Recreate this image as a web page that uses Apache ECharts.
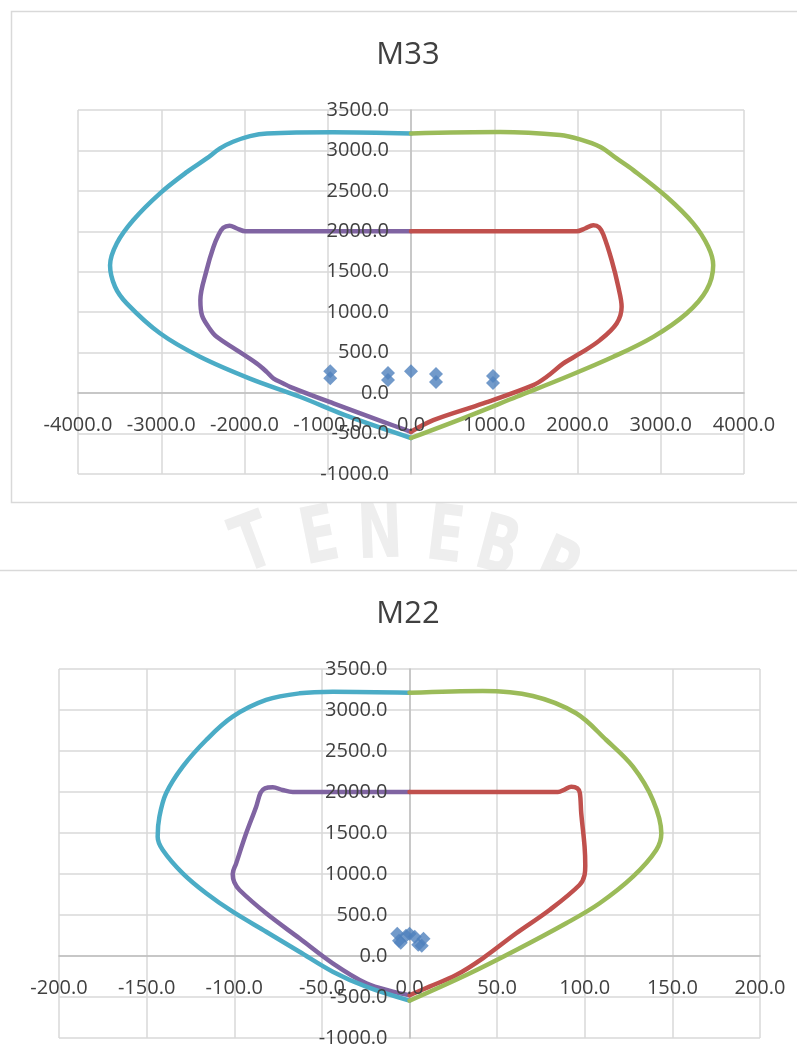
<!DOCTYPE html>
<html>
<head>
<meta charset="utf-8">
<script src="https://cdn.jsdelivr.net/npm/echarts@6/dist/echarts.min.js"></script>
<style>
  html, body { margin: 0; padding: 0; background: #ffffff; }
  #chart { width: 797px; height: 1061px; }
</style>
</head>
<body>
<div id="chart"></div>
<script>
// Axial load P of each load combination (shared by both diagrams)
const demandP = [270, 185, 248, 161, 270, 235, 136, 210, 124];
// Moment demands about each axis
const demandM33 = [-970, -970, -276, -276, 0, 300, 300, 985, 985];
const demandM22 = [-7, -6, -2, -5, 0, 3, 5, 8, 7];

// Axis tick setup
const m33Ticks = { min: -4000, max: 4000, step: 1000 };
const m22Ticks = { min: -200, max: 200, step: 50 };
const pTicks = { min: -1000, max: 3500, step: 500 };

// M33 interaction diagram: nominal (outer) and design (inner) curves, [M, P]
const m33NominalNeg = [[0,3210],[-940,3225],[-1730,3210],[-1934,3177],[-2138,3107],[-2294,3025],[-2454,2901],[-2690,2735],[-3015,2470],[-3335,2140],[-3535,1850],[-3615,1580],[-3555,1315],[-3415,1110],[-3015,740],[-2535,450],[-1935,180],[-1335,-45],[-735,-295],[0,-555]];
const m33NominalPos = [[0,3210],[1070,3228],[1790,3190],[2030,3136],[2270,3045],[2470,2901],[2670,2757],[3070,2427],[3390,2098],[3570,1809],[3630,1582],[3550,1273],[3310,985],[2910,696],[2430,449],[1870,202],[1270,-45],[670,-293],[0,-555]];
const m33DesignNeg = [[0,2000],[-1990,2000],[-2090,2035],[-2180,2070],[-2255,2045],[-2310,1960],[-2375,1800],[-2455,1520],[-2530,1150],[-2510,960],[-2420,800],[-2334,696],[-2094,532],[-1854,367],[-1734,263],[-1654,182],[-1534,120],[-1453,78],[-933,-127],[-333,-355],[0,-478]];
const m33DesignPos = [[0,2000],[1990,2000],[2090,2035],[2190,2075],[2260,2050],[2310,1960],[2410,1644],[2490,1314],[2530,1067],[2470,861],[2270,655],[2030,490],[1830,367],[1630,202],[1469,99],[868,-127],[268,-334],[0,-478]];

// M22 interaction diagram
const m22NominalNeg = [[0,3210],[-43.8,3223],[-62.8,3203],[-81.8,3122],[-100.9,2918],[-116,2634],[-129.4,2309],[-138.9,1984],[-142.7,1699],[-143.7,1455],[-140.8,1293],[-129.4,1008],[-116,765],[-100.9,540],[-81.8,296],[-62.8,52],[-43.8,-191],[-24.7,-374],[0,-545]];
const m22NominalPos = [[0,3210],[41.8,3232],[70.4,3171],[95.1,2960],[112.3,2634],[127.5,2309],[138.9,1902],[143.7,1496],[140.8,1293],[127.5,967],[108.5,643],[89.4,399],[60.9,73],[32.4,-232],[0,-545]];
const m22DesignNeg = [[0,2000],[-66.6,2000],[-72.5,2025],[-78,2057],[-82.5,2045],[-85,1990],[-87.5,1821],[-93.2,1496],[-98.9,1130],[-100.9,1000],[-100,900],[-97,805],[-81.8,521],[-62.8,216],[-43.8,-89],[-24.7,-333],[-9.5,-435],[0,-478]];
const m22DesignPos = [[0,2000],[84.7,2000],[88.5,2030],[92.3,2065],[95.8,2045],[97.2,1990],[98,1740],[99.9,1333],[100.3,1100],[99.9,988],[97,866],[79.9,561],[60.9,277],[41.8,-28],[26.6,-232],[11.4,-374],[0,-478]];

const COLORS = {
  demand: '#4F81BD',
  nominalNeg: '#4BACC6',
  nominalPos: '#9BBB59',
  designNeg: '#8064A2',
  designPos: '#C0504D'
};
const TEXT = '#404040';
const FONT = 'Open Sans';

const fmt = v => Number(v).toFixed(1);

// Grid lines and zero lines sit under the curves; tick labels use a second
// axis pair drawn above the curves, shifted onto the zero lines.
function gridAxis(gridIndex, t) {
  return {
    type: 'value', gridIndex, min: t.min, max: t.max, interval: t.step, z: 0,
    axisLine: { show: true, onZero: true, lineStyle: { color: '#BFBFBF', width: 1.5 } },
    axisTick: { show: false },
    axisLabel: { show: false },
    splitLine: { show: true, lineStyle: { color: '#D9D9D9', width: 1.5 } }
  };
}
function labelAxis(gridIndex, t, position) {
  return {
    type: 'value', gridIndex, min: t.min, max: t.max, interval: t.step, z: 10, position, offset: 0,
    axisLine: { show: false, onZero: false },
    axisTick: { show: false },
    splitLine: { show: false },
    axisLabel: { show: true, formatter: fmt, color: TEXT, fontSize: 20, fontFamily: FONT, margin: 22 }
  };
}

function curve(data, color, xi, yi) {
  return {
    type: 'line', data, xAxisIndex: xi, yAxisIndex: yi,
    showSymbol: false, smooth: 0.35, z: 3,
    lineStyle: { color, width: 4.5, cap: 'round', join: 'round' },
    itemStyle: { color }
  };
}
function demand(mValues, xi, yi) {
  return {
    type: 'scatter', xAxisIndex: xi, yAxisIndex: yi, z: 4,
    data: mValues.map((m, i) => [m, demandP[i]]),
    symbol: 'diamond', symbolSize: 14,
    itemStyle: { color: COLORS.demand }
  };
}

// Faint seal lettering between the two panels
const sealLetters = [
  { ch: 'T', x: 254, y: 548, r: 0.36 },
  { ch: 'E', x: 320, y: 541, r: 0.2 },
  { ch: 'N', x: 380, y: 537, r: 0.04 },
  { ch: 'E', x: 445, y: 540, r: -0.12 },
  { ch: 'B', x: 497, y: 551, r: -0.26 },
  { ch: 'R', x: 556, y: 573, r: -0.42 }
];

const chart = echarts.init(document.getElementById('chart'), null, { renderer: 'canvas' });

const option = {
  animation: false,
  backgroundColor: '#ffffff',
  grid: [
    { left: 78, top: 110, width: 666, height: 364, outerBoundsMode: 'none' },
    { left: 59, top: 669, width: 701, height: 369, outerBoundsMode: 'none' }
  ],
  xAxis: [
    gridAxis(0, m33Ticks),
    labelAxis(0, m33Ticks, 'bottom'),
    gridAxis(1, m22Ticks),
    labelAxis(1, m22Ticks, 'bottom')
  ],
  yAxis: [
    gridAxis(0, pTicks),
    labelAxis(0, pTicks, 'left'),
    gridAxis(1, pTicks),
    labelAxis(1, pTicks, 'left')
  ],
  graphic: [
    ...sealLetters.map(l => ({
      type: 'text', x: l.x, y: l.y, rotation: l.r, scaleY: 1.3, z: -20,
      style: { text: l.ch, fill: '#EEEEEE', font: 'bold 60px "DejaVu Sans Condensed", "DejaVu Sans"', align: 'center', verticalAlign: 'middle' }
    })),
    { type: 'rect', z: -15, shape: { x: 11.5, y: 11.5, width: 800, height: 491 },
      style: { fill: '#ffffff', stroke: '#D9D9D9', lineWidth: 1.5 } },
    { type: 'rect', z: -15, shape: { x: -2, y: 570.5, width: 805, height: 500 },
      style: { fill: '#ffffff', stroke: '#D9D9D9', lineWidth: 1.5 } },
    { type: 'text', x: 408, y: 55, z: 20,
      style: { text: 'M33', fill: TEXT, font: '31px "' + FONT + '"', align: 'center', verticalAlign: 'middle' } },
    { type: 'text', x: 408, y: 614, z: 20,
      style: { text: 'M22', fill: TEXT, font: '31px "' + FONT + '"', align: 'center', verticalAlign: 'middle' } }
  ],
  series: [
    demand(demandM33, 0, 0),
    curve(m33DesignNeg, COLORS.designNeg, 0, 0),
    curve(m33DesignPos, COLORS.designPos, 0, 0),
    curve(m33NominalNeg, COLORS.nominalNeg, 0, 0),
    curve(m33NominalPos, COLORS.nominalPos, 0, 0),
    demand(demandM22, 2, 2),
    curve(m22DesignNeg, COLORS.designNeg, 2, 2),
    curve(m22DesignPos, COLORS.designPos, 2, 2),
    curve(m22NominalNeg, COLORS.nominalNeg, 2, 2),
    curve(m22NominalPos, COLORS.nominalPos, 2, 2)
  ]
};

chart.setOption(option);

// Move each label axis onto the zero line of its grid, using the grid's own scales
function zeroOffsets(axisIdx, xTicks) {
  const finder = { xAxisIndex: axisIdx, yAxisIndex: axisIdx };
  const origin = chart.convertToPixel(finder, [0, 0]);
  const corner = chart.convertToPixel(finder, [xTicks.min, pTicks.min]);
  return { x: origin[1] - corner[1], y: corner[0] - origin[0] };
}
const o1 = zeroOffsets(0, m33Ticks);
const o2 = zeroOffsets(2, m22Ticks);
chart.setOption({
  xAxis: [{}, { offset: o1.x }, {}, { offset: o2.x }],
  yAxis: [{}, { offset: o1.y }, {}, { offset: o2.y }]
});
</script>
</body>
</html>
